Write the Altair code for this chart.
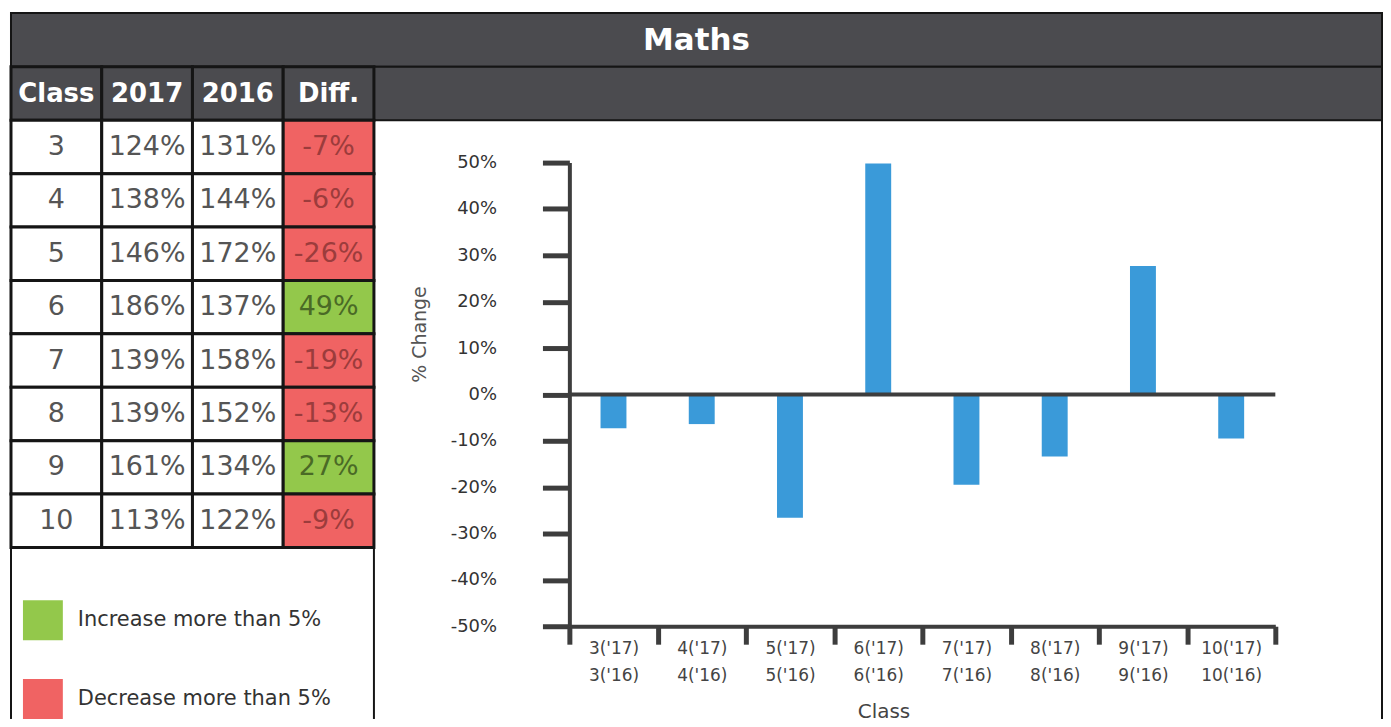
import altair as alt
import pandas as pd

# ---------------- data ----------------
classes = [3, 4, 5, 6, 7, 8, 9, 10]
pct_2017 = [124, 138, 146, 186, 139, 139, 161, 113]
pct_2016 = [131, 144, 172, 137, 158, 152, 134, 122]
diff = [-7, -6, -26, 49, -19, -13, 27, -9]
bar_change = [-7.3, -6.4, -26.6, 49.8, -19.5, -13.4, 27.7, -9.5]
headers = ["Class", "2017", "2016", "Diff."]
panel_title = ["Maths"]
status_labels = ["Increase more than 5%", "Decrease more than 5%"]
bar_labels = [f"{c}('17)|{c}('16)" for c in classes]

# ---------------- styles ----------------
FONT = "DejaVu Sans"
DARK = "#4b4b4f"
LINE = "#151515"
AX = "#3d3d3d"
BLUE = "#3a9ad9"
GREEN = "#93c84b"
RED = "#f06363"
W, H = 708, 465
LEFT, RIGHT = -560, 815
TABLE_RIGHT = -196
TOP = -150
HDR_TOP = -96
TABLE_BOT = 386
BOTTOM = 558

rows = ["hdr"] + [str(c) for c in classes]
row_h = (TABLE_BOT - HDR_TOP) / len(rows)

col_scale = alt.Scale(domain=headers, range=[LEFT, TABLE_RIGHT], paddingInner=0, paddingOuter=0)
row_scale = alt.Scale(domain=rows, range=[HDR_TOP, TABLE_BOT], paddingInner=0, paddingOuter=0)

one = pd.DataFrame({"title": panel_title})

hdr_df = pd.DataFrame({"col": headers, "row": ["hdr"] * 4, "text": headers})
body_records = []
for c, a, b in zip(classes, pct_2017, pct_2016):
    body_records.append({"col": "Class", "row": str(c), "text": str(c)})
    body_records.append({"col": "2017", "row": str(c), "text": f"{a}%"})
    body_records.append({"col": "2016", "row": str(c), "text": f"{b}%"})
body_df = pd.DataFrame(body_records)
diff_df = pd.DataFrame({
    "col": ["Diff."] * len(classes),
    "row": [str(c) for c in classes],
    "text": [f"{d}%" for d in diff],
    "status": [status_labels[0] if d > 5 else status_labels[1] for d in diff],
})
bar_df = pd.DataFrame({"label": bar_labels, "change": bar_change})

X_ = lambda: alt.X("col:N", scale=col_scale, axis=None)
Y_ = lambda: alt.Y("row:N", scale=row_scale, axis=None)

# ---------------- frame ----------------
title_rect = alt.Chart(one).mark_rect(fill=DARK, stroke=LINE, strokeWidth=2).encode(
    x=alt.value(LEFT), x2=alt.value(RIGHT), y=alt.value(TOP), y2=alt.value(HDR_TOP))
title_txt = alt.Chart(one).mark_text(font=FONT, fontWeight="bold", fontSize=31, color="white").encode(
    x=alt.value((LEFT + RIGHT) / 2), y=alt.value((TOP + HDR_TOP) / 2 + 1), text="title:N")
hdr_strip = alt.Chart(one).mark_rect(fill=DARK, stroke=LINE, strokeWidth=2).encode(
    x=alt.value(TABLE_RIGHT), x2=alt.value(RIGHT), y=alt.value(HDR_TOP), y2=alt.value(HDR_TOP + row_h))
right_border = alt.Chart(one).mark_rule(color=LINE, strokeWidth=2).encode(
    x=alt.value(RIGHT), y=alt.value(HDR_TOP + row_h), y2=alt.value(BOTTOM))
leg_left = alt.Chart(one).mark_rule(color=LINE, strokeWidth=2).encode(
    x=alt.value(LEFT), y=alt.value(TABLE_BOT), y2=alt.value(BOTTOM))
leg_right = alt.Chart(one).mark_rule(color=LINE, strokeWidth=2).encode(
    x=alt.value(TABLE_RIGHT), y=alt.value(TABLE_BOT), y2=alt.value(BOTTOM))

# ---------------- table ----------------
hdr_cells = alt.Chart(hdr_df).mark_rect(fill=DARK, stroke=LINE, strokeWidth=3).encode(x=X_(), y=Y_())
hdr_text = alt.Chart(hdr_df).mark_text(font=FONT, fontWeight="bold", fontSize=26, color="white").encode(
    x=X_(), y=Y_(), text="text:N")
body_cells = alt.Chart(body_df).mark_rect(fill="white", stroke=LINE, strokeWidth=3).encode(x=X_(), y=Y_())
body_text = alt.Chart(body_df).mark_text(font=FONT, fontSize=27, color="#555555").encode(
    x=X_(), y=Y_(), text="text:N")
diff_cells = alt.Chart(diff_df).mark_rect(stroke=LINE, strokeWidth=3).encode(
    x=X_(), y=Y_(),
    fill=alt.Fill("status:N", scale=alt.Scale(domain=status_labels, range=[GREEN, RED]),
                  legend=alt.Legend(title=None, orient="none", legendX=-548, legendY=439,
                                    symbolType="square", symbolSize=1600, symbolStrokeWidth=0,
                                    labelFont=FONT, labelFontSize=21, labelColor="#333333",
                                    labelLimit=400, labelOffset=15, rowPadding=39, padding=0)))
diff_text = alt.Chart(diff_df).mark_text(font=FONT, fontSize=27).encode(
    x=X_(), y=Y_(), text="text:N",
    color=alt.Color("status:N", scale=alt.Scale(domain=status_labels, range=["#4a6a26", "#9c3c3c"]),
                    legend=None))

# ---------------- bar chart ----------------
y_scale = alt.Scale(domain=[-50, 50], nice=False, zero=False)
bars = alt.Chart(bar_df).mark_bar(color=BLUE, width=26).encode(
    x=alt.X("label:N", sort=None, scale=alt.Scale(paddingInner=0, paddingOuter=0),
            axis=alt.Axis(title="Class", labelExpr="split(datum.label, '|')", labelAngle=0,
                          labelFont=FONT, labelFontSize=17, labelColor="#444444", labelLineHeight=27,
                          labelPadding=-4, labelBaseline="top",
                          tickBand="extent", tickSize=18, tickWidth=5, tickColor=AX,
                          domainColor=AX, domainWidth=4,
                          titleFont=FONT, titleFontSize=20, titleFontWeight="normal", titleColor="#444444",
                          titleX=315, titleY=86, titleBaseline="middle")),
    y=alt.Y("change:Q", scale=y_scale,
            axis=alt.Axis(title="% Change", values=list(range(-50, 51, 10)), labelExpr="datum.value + '%'",
                          labelFont=FONT, labelFontSize=18, labelColor="#333333", labelPadding=46,
                          tickSize=27, tickWidth=5, tickColor=AX, domainColor=AX, domainWidth=4, grid=False,
                          titleFont=FONT, titleFontSize=19, titleFontWeight="normal", titleColor="#555555",
                          titleX=-150, titleY=172, titleAlign="center", titleBaseline="middle")),
)
zero_rule = alt.Chart(one).mark_rule(color=AX, strokeWidth=4).encode(
    x=alt.value(0), x2=alt.value(W), y=alt.YDatum(0, scale=y_scale, axis=None))

chart = alt.layer(
    title_rect, hdr_strip, right_border, leg_left, leg_right,
    hdr_cells, body_cells, diff_cells,
    title_txt, hdr_text, body_text, diff_text,
    bars, zero_rule,
).resolve_scale(x="independent", y="independent", fill="independent", color="independent").properties(
    width=W, height=H, padding={"left": 1, "top": 3, "right": 0, "bottom": 0}
).configure_view(stroke=None)

chart.save("out.html", embed_options={"renderer": "svg", "actions": False})
